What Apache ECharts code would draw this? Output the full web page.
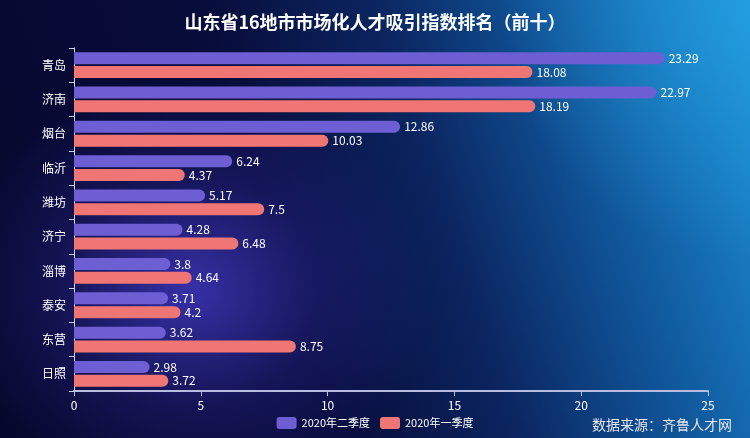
<!DOCTYPE html>
<html>
<head>
<meta charset="utf-8">
<script src="https://cdn.jsdelivr.net/npm/echarts@6/dist/echarts.min.js"></script>
<style>
html,body{margin:0;padding:0;}
#c{width:750px;height:438px;
background:
 radial-gradient(ellipse 240px 210px at 190px 290px, rgba(75,65,215,0.7), rgba(60,50,185,0.25) 55%, rgba(0,0,0,0) 100%),
 radial-gradient(ellipse 260px 260px at 760px 0px, rgba(40,170,235,0.55), rgba(0,0,0,0) 100%),
 linear-gradient(72deg, #06072c 0%, #080c3a 38%, #0b2560 58%, #0f4f92 74%, #1672b8 88%, #1d90d4 100%);
}
</style>
</head>
<body>
<div id="c"></div>
<script>
var categories = ['青岛','济南','烟台','临沂','潍坊','济宁','淄博','泰安','东营','日照'];
var seriesNames = ['2020年二季度','2020年一季度'];
var q2 = [23.29,22.97,12.86,6.24,5.17,4.28,3.8,3.71,3.62,2.98];
var q1 = [18.08,18.19,10.03,4.37,7.5,6.48,4.64,4.2,8.75,3.72];
var xTicks = {min:0, max:25, interval:5};
var titleText = '山东省16地市市场化人才吸引指数排名（前十）';
var sourceText = '数据来源：齐鲁人才网';

var font = '"Noto Sans CJK SC", "Noto Sans", sans-serif';
var chart = echarts.init(document.getElementById('c'), null, {renderer:'canvas'});
function barSeries(name, data, color){
  return {
    name: name, type: 'bar', data: data, barWidth: 12, barGap: '15%',
    itemStyle: {color: color, borderRadius: [0,6,6,0]},
    label: {show: true, position: 'right', color: '#fff', fontSize: 12, fontFamily: font, distance: 4}
  };
}
chart.setOption({
  backgroundColor: 'transparent',
  textStyle: {fontFamily: font},
  title: {text: titleText, left: 'center', top: 8,
    textStyle: {color: '#fff', fontSize: 18, fontWeight: 'bold', fontFamily: font}},
  legend: {bottom: 4, left: 'center', itemWidth: 20, itemHeight: 12, itemGap: 10,
    icon: 'roundRect',
    textStyle: {color: '#fff', fontSize: 11, fontFamily: font}, data: seriesNames},
  grid: {left: 74, right: 42, top: 48, bottom: 47},
  xAxis: {type: 'value', min: xTicks.min, max: xTicks.max, interval: xTicks.interval,
    axisLine: {show: true, lineStyle: {color: '#b8bce0', width: 2}},
    axisTick: {show: true, lineStyle: {color: '#b8bce0'}},
    splitLine: {show: false},
    axisLabel: {color: '#fff', fontSize: 12, margin: 8}},
  yAxis: {type: 'category', data: categories, inverse: true,
    axisLine: {show: true, lineStyle: {color: '#d0d2e8', width: 1}},
    axisTick: {show: true, lineStyle: {color: '#d0d2e8'}},
    axisLabel: {color: '#fff', fontSize: 12, margin: 8}},
  graphic: [{type: 'text', right: 18, bottom: 6,
    style: {text: sourceText, fill: '#e6e6ee', fontSize: 14, fontFamily: font}}],
  series: [barSeries(seriesNames[0], q2, '#6e5ed4'), barSeries(seriesNames[1], q1, '#f07676')]
});
</script>
</body>
</html>
